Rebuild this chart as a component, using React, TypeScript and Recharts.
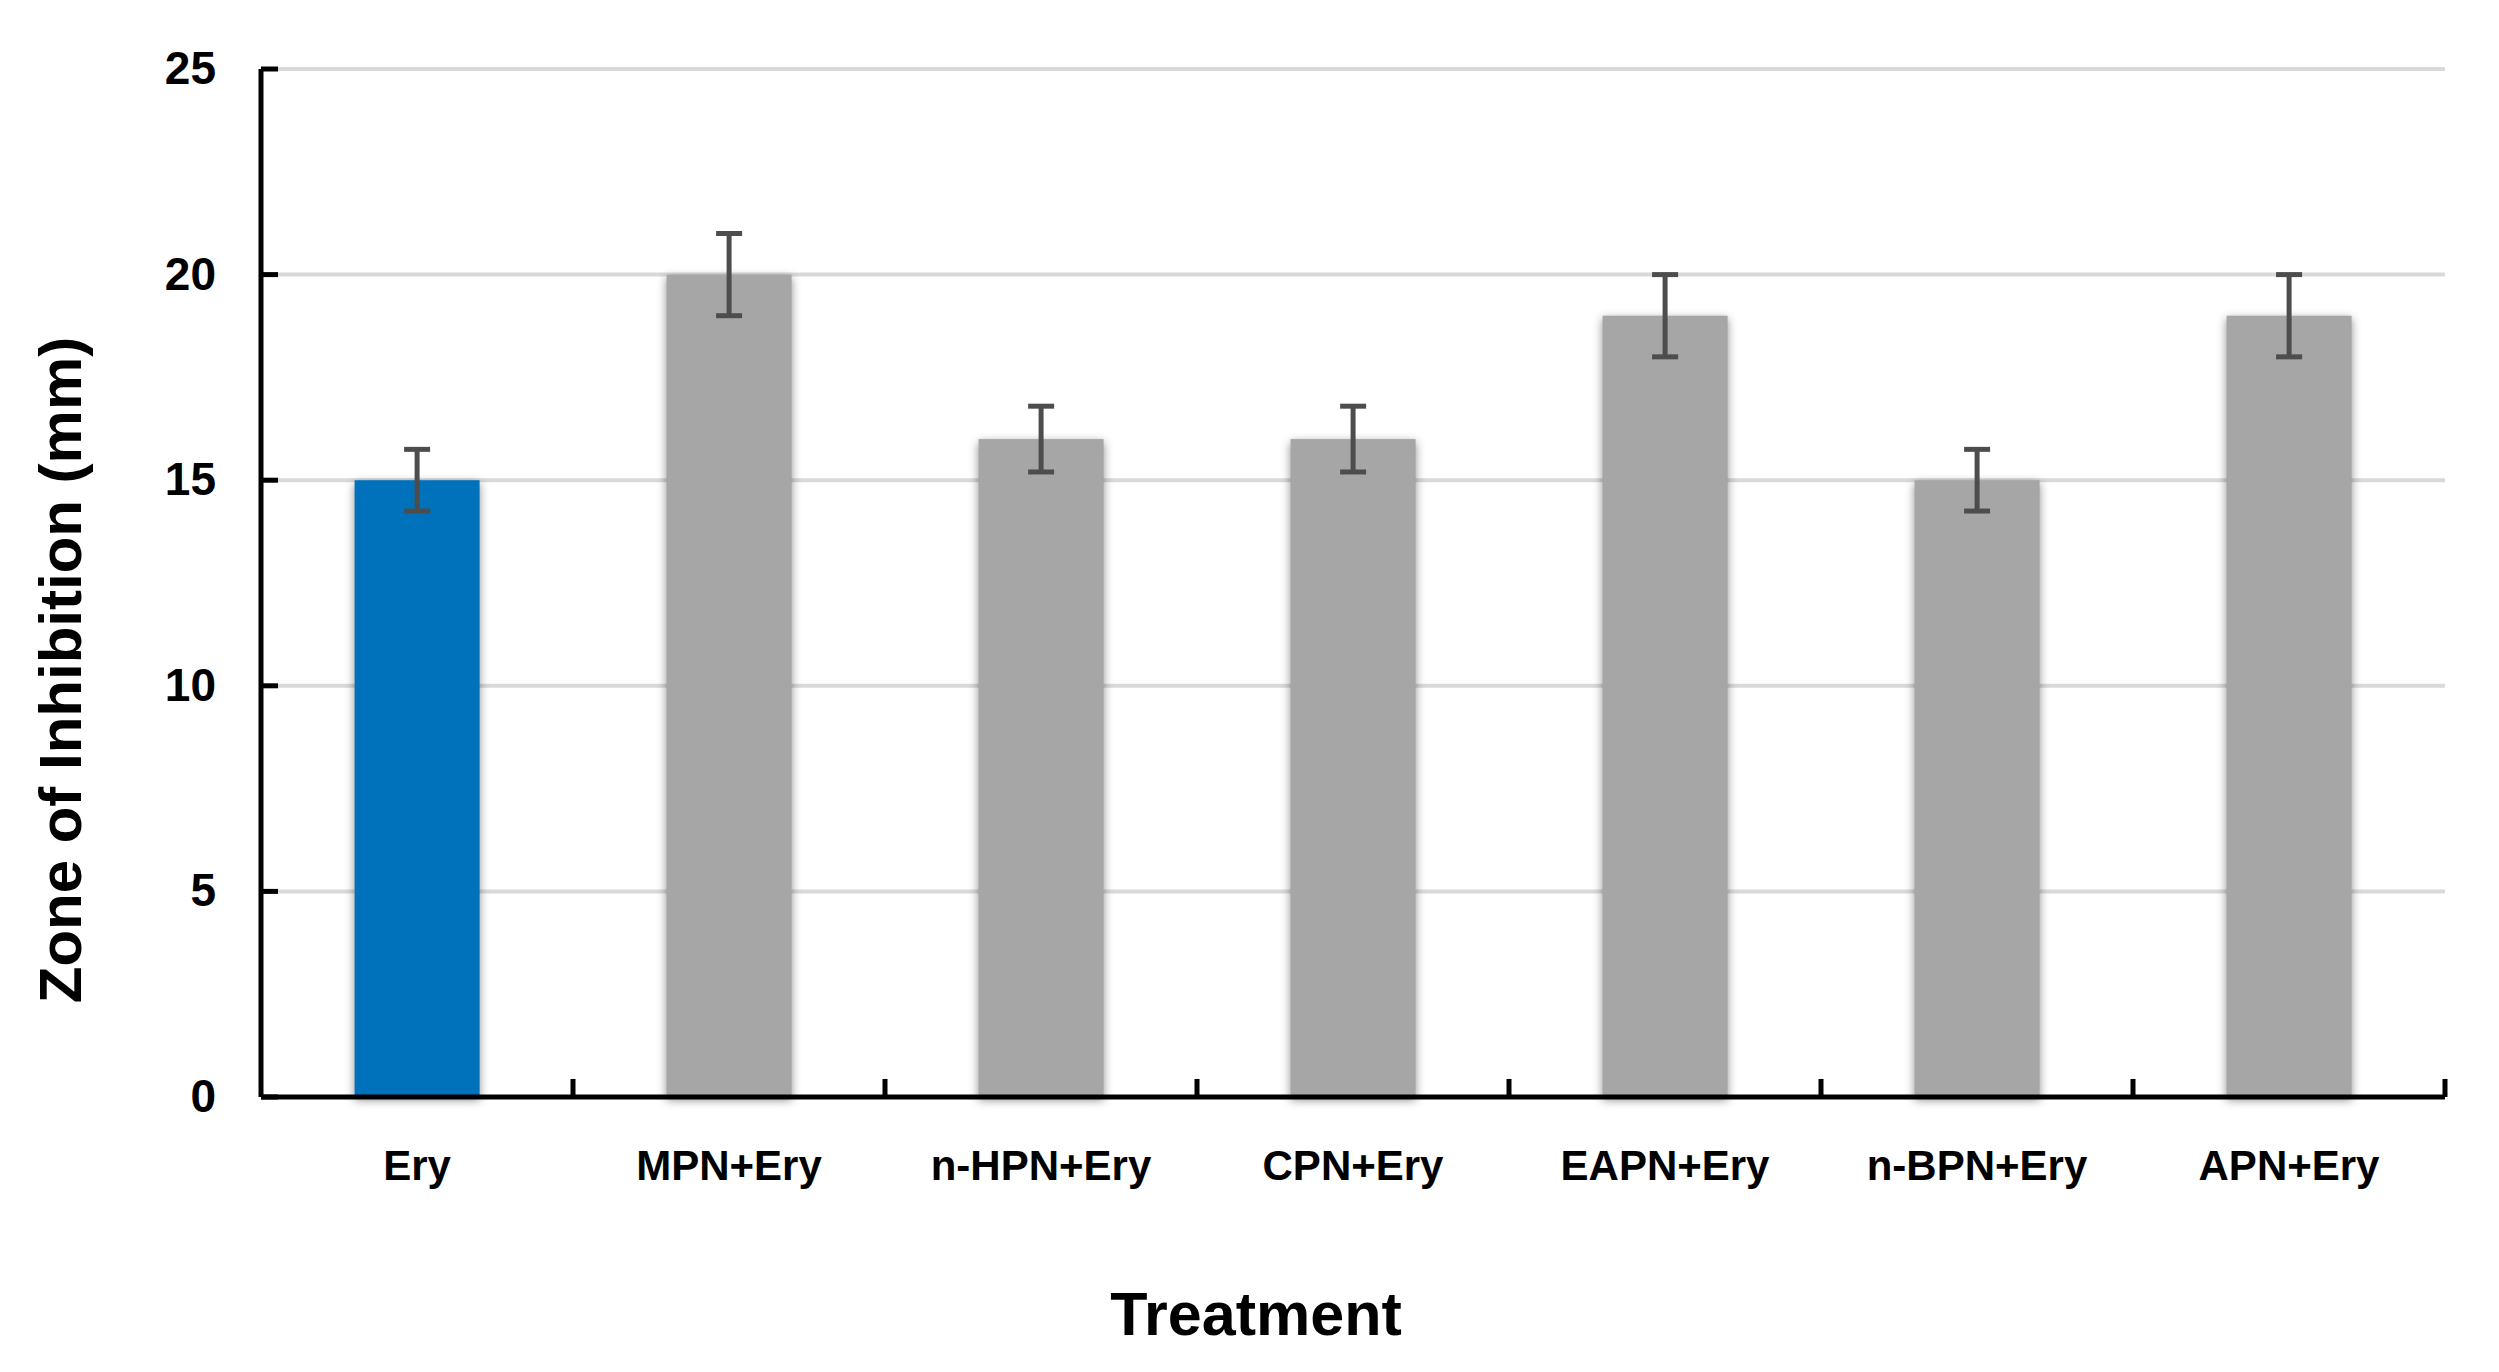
import React from 'react';
import { BarChart, Bar, XAxis, YAxis, CartesianGrid, ErrorBar, Cell, Label } from 'recharts';

const treatments = ['Ery', 'MPN+Ery', 'n-HPN+Ery', 'CPN+Ery', 'EAPN+Ery', 'n-BPN+Ery', 'APN+Ery'];
const zoneMeans = [15, 20, 16, 16, 19, 15, 19];
const zoneErrors = [0.75, 1, 0.8, 0.8, 1, 0.75, 1];
const yTicks = [0, 5, 10, 15, 20, 25];

const data = treatments.map((name, i) => ({ name, zone: zoneMeans[i], err: zoneErrors[i] }));

const W = 2499;
const H = 1372;
const FONT = '"Liberation Sans", Arial, sans-serif';
const CONTROL = '#0072BB';
const TREATED = '#A6A6A6';

// category label + tick at the right edge of each band (ticks sit between bars, pointing up)
const XTick = (props: any) => {
  const { x, y, payload } = props;
  const half = payload?.offset ?? 156;
  return (
    <g>
      <line x1={x + half} x2={x + half} y1={y} y2={y - 18} stroke="#000" strokeWidth={5} />
      <text x={x} y={y + 83} textAnchor="middle" fontFamily={FONT} fontWeight="bold" fontSize={42} fill="#000">
        {payload.value}
      </text>
    </g>
  );
};

// value label + short inward tick
const YTick = (props: any) => {
  const { x, y, payload } = props;
  return (
    <g>
      <line x1={x} x2={x + 17} y1={y} y2={y} stroke="#000" strokeWidth={5} />
      <text x={x - 45} y={y + 15} textAnchor="end" fontFamily={FONT} fontWeight="bold" fontSize={46} fill="#000">
        {payload.value}
      </text>
    </g>
  );
};

const ShadowBar = (props: any) => {
  const { x, y, width, height, fill } = props;
  return (
    <rect
      x={x}
      y={y}
      width={width}
      height={height}
      fill={fill}
      style={{ filter: 'drop-shadow(0px 3px 5px rgba(0,0,0,0.45))' }}
    />
  );
};

const App = () => {
  return (
    <div style={{ position: 'absolute', left: 0, top: 0, width: W, height: H, background: '#fff' }}>
      <BarChart
        width={W}
        height={H}
        data={data}
        margin={{ top: 69, right: 54, bottom: 215, left: 161 }}
        barCategoryGap="30%"
      >
        <CartesianGrid vertical={false} stroke="#D9D9D9" strokeWidth={4} />
        <Bar dataKey="zone" shape={ShadowBar} isAnimationActive={false}>
          {data.map((d) => (
            <Cell key={d.name} fill={d.name === 'Ery' ? CONTROL : TREATED} />
          ))}
          <ErrorBar dataKey="err" direction="y" width={13} stroke="#4D4D4D" strokeWidth={5} />
        </Bar>
        <XAxis
          dataKey="name"
          height={60}
          interval={0}
          tickSize={0}
          tickMargin={0}
          tickLine={false}
          axisLine={{ stroke: '#000', strokeWidth: 5 }}
          tick={XTick}
        >
          <Label
            content={() => (
              <text x={1256} y={1335} textAnchor="middle" fontFamily={FONT} fontWeight="bold" fontSize={61} fill="#000">
                Treatment
              </text>
            )}
          />
        </XAxis>
        <YAxis
          width={100}
          domain={[0, 25]}
          ticks={yTicks}
          interval={0}
          tickSize={0}
          tickMargin={0}
          tickLine={false}
          axisLine={{ stroke: '#000', strokeWidth: 5 }}
          tick={YTick}
        >
          <Label
            content={() => (
              <text
                x={60}
                y={670}
                transform="rotate(-90 60 670)"
                textAnchor="middle"
                dominantBaseline="central"
                fontFamily={FONT}
                fontWeight="bold"
                fontSize={60}
                fill="#000"
              >
                Zone of Inhibition (mm)
              </text>
            )}
          />
        </YAxis>
      </BarChart>
    </div>
  );
};

export default App;
